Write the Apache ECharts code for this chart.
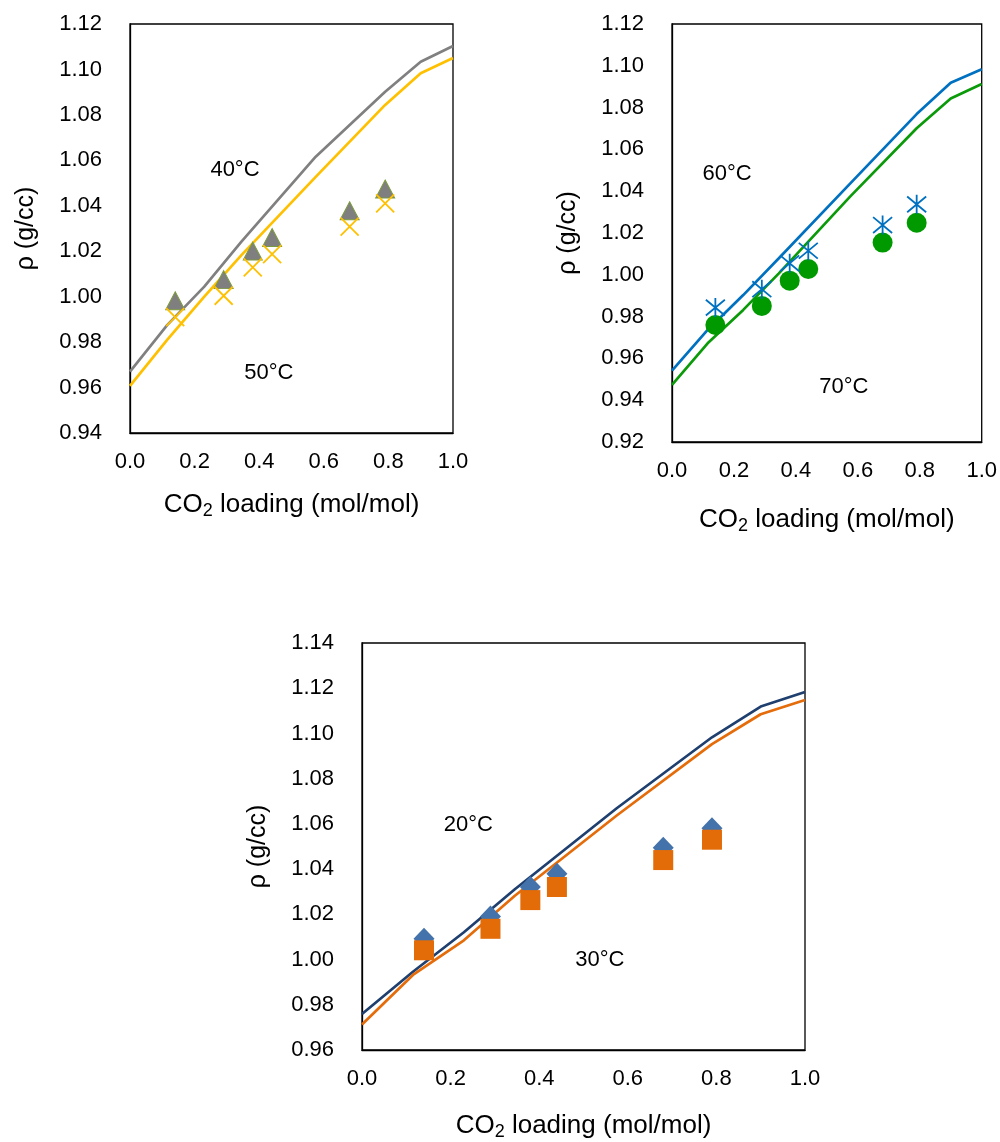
<!DOCTYPE html>
<html>
<head>
<meta charset="utf-8">
<script src="https://cdn.jsdelivr.net/npm/echarts@6/dist/echarts.min.js"></script>
<style>
html,body{margin:0;padding:0;background:#fff;}
#c{width:1000px;height:1142px;}
</style>
</head>
<body>
<div id="c"></div>
<script>
// ---- data ----
const modelLoading = [0, 0.115, 0.23, 0.345, 0.575, 0.79, 0.9, 1.0];
const expLoading = [0.14, 0.29, 0.38, 0.44, 0.68, 0.79];

const model40 = [0.967, 0.9875, 1.0044, 1.0242, 1.0616, 1.0902, 1.1034, 1.1103];
const model50 = [0.9607, 0.981, 1.0000, 1.0183, 1.0527, 1.0844, 1.0983, 1.105];
const exp40 = [0.9982, 1.0075, 1.0201, 1.026, 1.0378, 1.0474];
const exp50 = [0.991, 1.0004, 1.0129, 1.0187, 1.0308, 1.0411];

const model60 = [0.9541, 0.9736, 0.9903, 1.0079, 1.0436, 1.0769, 1.0919, 1.0983];
const model70 = [0.9473, 0.9672, 0.9832, 1.0007, 1.0374, 1.0701, 1.0844, 1.0913];
const exp60 = [0.9843, 0.9931, 1.0055, 1.0115, 1.0238, 1.0337];
const exp70 = [0.976, 0.9851, 0.9972, 1.0028, 1.0154, 1.0249];

const model20 = [0.9759, 0.9946, 1.0121, 1.0311, 1.0669, 1.0983, 1.1119, 1.1183];
const model30 = [0.9713, 0.9932, 1.0085, 1.0282, 1.0637, 1.0953, 1.1085, 1.1148];
const exp20 = [1.0092, 1.019, 1.0321, 1.038, 1.0494, 1.0581];
const exp30 = [1.0041, 1.0136, 1.0263, 1.0321, 1.044, 1.053];

const xTicks = {min: 0, max: 1, interval: 0.2};
const yTicksTL = {min: 0.94, max: 1.12, interval: 0.02};
const yTicksTR = {min: 0.92, max: 1.12, interval: 0.02};
const yTicksB = {min: 0.96, max: 1.14, interval: 0.02};

const labelsTL = [["40°C", 0.325, 1.0558], ["50°C", 0.43, 0.9664]];
const labelsTR = [["60°C", 0.178, 1.0481], ["70°C", 0.555, 0.9465]];
const labelsB = [["20°C", 0.24, 1.0596], ["30°C", 0.537, 0.9997]];

const xTitle = "CO{sub|2} loading (mol/mol)";
const yTitle = "ρ (g/cc)";

// ---- build ----
const FONT = "Liberation Sans, Arial, sans-serif";
const pair = (xs, ys) => xs.map((x, i) => [x, ys[i]]);

const grids = [
  {left: 130, top: 24, width: 323, height: 409},
  {left: 672, top: 24, width: 313, height: 418},
  {left: 362, top: 643, width: 443, height: 411}
];
const xNameGaps = [57, 63, 61];

function xAxis(gi) {
  return {
    type: 'value', gridIndex: gi, min: xTicks.min, max: xTicks.max, interval: xTicks.interval,
    axisLine: {show: true, lineStyle: {color: '#000', width: 1.3}},
    axisTick: {show: false}, splitLine: {show: false},
    axisLabel: {color: '#000', fontSize: 22, fontFamily: FONT, margin: 18,
      formatter: v => v.toFixed(1)},
    name: xTitle, nameLocation: 'middle', nameGap: xNameGaps[gi],
    nameTextStyle: {color: '#000', fontSize: 26, fontFamily: FONT, lineHeight: 30,
      rich: {sub: {fontSize: 18, fontFamily: FONT, color: '#000', lineHeight: 16, verticalAlign: 'bottom'}}}
  };
}
function yAxis(gi, t) {
  return {
    type: 'value', gridIndex: gi, min: t.min, max: t.max, interval: t.interval,
    axisLine: {show: true, lineStyle: {color: '#000', width: 1.3}},
    axisTick: {show: false}, splitLine: {show: false},
    axisLabel: {color: '#000', fontSize: 22, fontFamily: FONT, margin: 28,
      formatter: v => v.toFixed(2)},
    name: yTitle, nameLocation: 'middle', nameGap: 91, nameRotate: 90,
    nameTextStyle: {color: '#000', fontSize: 25, fontFamily: FONT}
  };
}
function lineS(gi, ys, color) {
  return {type: 'line', xAxisIndex: gi, yAxisIndex: gi, data: pair(modelLoading, ys),
    showSymbol: false, symbol: 'none', lineStyle: {color: color, width: 2.7}, z: 2, silent: true};
}
function scat(gi, ys, symbol, size, style, z) {
  return {type: 'scatter', xAxisIndex: gi, yAxisIndex: gi, data: pair(expLoading, ys),
    symbol: symbol, symbolSize: size, itemStyle: Object.assign({opacity: 1}, style), z: z, silent: true};
}
function labelS(gi, arr) {
  return {type: 'scatter', xAxisIndex: gi, yAxisIndex: gi, symbolSize: 1,
    itemStyle: {color: 'rgba(0,0,0,0)', opacity: 1},
    data: arr.map(a => ({name: a[0], value: [a[1], a[2]]})),
    label: {show: true, position: 'inside', formatter: p => p.name, color: '#000', opacity: 1,
      fontSize: 22, fontFamily: FONT},
    z: 10, silent: true};
}

const CROSS = 'path://M0,0L10,10M10,0L0,10';
const STAR = 'path://M0,0L10,10M10,0L0,10M5,-1L5,11';

const option = {
  backgroundColor: '#fff',
  animation: false,
  grid: grids.map(g => Object.assign({show: true, borderColor: '#000', borderWidth: 1.3, backgroundColor: 'transparent'}, g)),
  xAxis: [xAxis(0), xAxis(1), xAxis(2)],
  yAxis: [yAxis(0, yTicksTL), yAxis(1, yTicksTR), yAxis(2, yTicksB)],
  series: [
    lineS(0, model40, '#808080'),
    lineS(0, model50, '#FFC000'),
    scat(0, exp40, 'triangle', [19, 18], {color: '#7F7F7F', borderColor: '#7C9A3F', borderWidth: 1}, 3),
    scat(0, exp50, CROSS, 18, {color: 'transparent', borderColor: '#FFC000', borderWidth: 1.8}, 4),
    labelS(0, labelsTL),

    lineS(1, model60, '#0070C0'),
    lineS(1, model70, '#0A9A0A'),
    scat(1, exp70, 'circle', 20, {color: '#009A00'}, 3),
    scat(1, exp60, STAR, 19, {color: 'transparent', borderColor: '#0070C0', borderWidth: 1.8}, 4),
    labelS(1, labelsTR),

    lineS(2, model20, '#1F3F6E'),
    lineS(2, model30, '#E46C0A'),
    scat(2, exp20, 'diamond', [21, 22], {color: '#4472AA'}, 3),
    scat(2, exp30, 'rect', 20, {color: '#E36C09'}, 4),
    labelS(2, labelsB)
  ]
};

const chart = echarts.init(document.getElementById('c'), null, {renderer: 'canvas'});
chart.setOption(option);
</script>
</body>
</html>
